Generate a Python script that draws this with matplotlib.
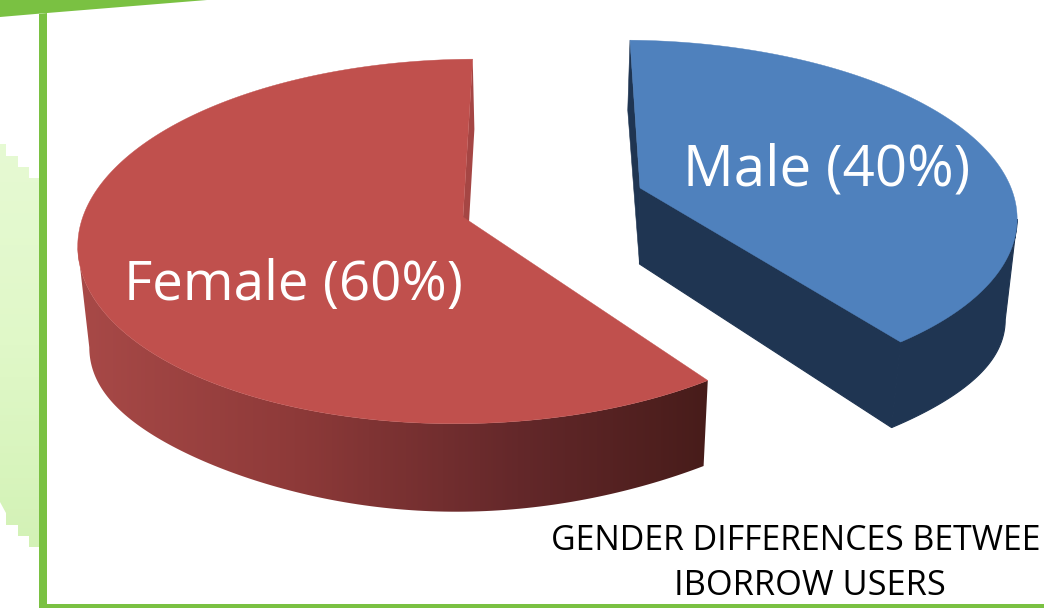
import numpy as np
import matplotlib
matplotlib.use("Agg")
import matplotlib.pyplot as plt
from matplotlib.colors import LinearSegmentedColormap
from matplotlib.patches import Polygon

# valores do grafico
categories = ['Female', 'Male']
shares = [60, 40]
title_lines = ['GENDER DIFFERENCES BETWEE', 'IBORROW USERS']

GREEN = '#7AC142'
plt.rcParams['font.family'] = ['Open Sans', 'DejaVu Sans']

fig = plt.figure(figsize=(10.44, 6.08), dpi=100)
ax = fig.add_axes([0, 0, 1, 1])
ax.set_xlim(0, 1044)
ax.set_ylim(608, 0)
ax.axis('off')


def top_face(theta, apex, a, b, c, e, f):
    # circulo do topo em perspectiva (theta em graus, horario a partir do topo)
    t = np.radians(theta)
    u, v = np.sin(t), np.cos(t)
    w = 1 + e * v + f * u
    return apex[0] + (a * u + b * v) / w, apex[1] - c * v / w, u, v


def bottom_of(x, y, u, v):
    # base da fatia: desce e encolhe um pouco em direcao ao centro
    return 540 + (x - 540) * 0.975, y + 76 - 6 * v + 25 * u ** 4 + 6 * np.maximum(-v, 0) ** 6


# fundo verde claro em degraus, a esquerda
stair_x = [0, 6, 6, 18, 18, 29, 29, 39, 39, 29, 29, 18, 18, 6, 6, 0]
stair_y = [144, 144, 156, 156, 167, 167, 178, 178, 547, 547, 536, 536, 525, 525, 513, 502]
grad = ax.imshow(np.linspace(0, 1, 64).reshape(-1, 1), extent=[0, 39, 547, 144], aspect='auto',
                 cmap=LinearSegmentedColormap.from_list('bg', ['#E6FAD3', '#E0F8C8', '#D3F2B6']), zorder=1)
clip = Polygon(np.column_stack([stair_x, stair_y]), transform=ax.transData, fc='none', ec='none')
ax.add_patch(clip)
grad.set_clip_path(clip)

# moldura verde
ax.add_patch(Polygon([(0, 0), (207, 0), (47, 13), (0, 17)], fc=GREEN, ec='none', zorder=2))
ax.add_patch(Polygon([(39, 14), (47, 13), (47, 604), (1044, 604), (1044, 608), (39, 608)], fc=GREEN, ec='none', zorder=2))

start = 0.0
male_span = shares[1] / sum(shares) * 360
female_span = shares[0] / sum(shares) * 360

# fatia Female
red_apex = (463, 217)
red_par = dict(apex=red_apex, a=384, b=11, c=179, e=0.134, f=-0.01)
th = np.linspace(start + male_span, start + male_span + female_span, 240)
x, y, u, v = top_face(th, **red_par)
xb, yb = bottom_of(x, y, u, v)
wall_cmap = LinearSegmentedColormap.from_list('wall', [(0, '#A94A48'), (0.35, '#8E3A39'), (0.7, '#64282A'), (1, '#471C1A')])
# parede externa com degrade horizontal, so ate o ponto mais a esquerda
wall = ax.imshow(np.linspace(0, 1, 256).reshape(1, -1), extent=[70, 710, 520, 230], aspect='auto', cmap=wall_cmap, zorder=3)
k = np.argmin(x)
wall_clip = Polygon(list(zip(x[:k + 1], y[:k + 1])) + list(zip(xb[k::-1], yb[k::-1])), transform=ax.transData, fc='none', ec='none')
ax.add_patch(wall_clip)
wall.set_clip_path(wall_clip)
# parede interna (fina) da fatia
xeb, yeb = bottom_of(x[-1], y[-1], u[-1], v[-1])
axb, ayb = bottom_of(red_apex[0], red_apex[1], 0, 0)
ax.add_patch(Polygon([(x[-1], y[-1]), (xeb, yeb), (axb, ayb), red_apex], fc='#A54644', ec='none', zorder=3))
ax.add_patch(Polygon([red_apex] + list(zip(x, y)), fc='#C0504D', ec='#C0504D', lw=0.3, zorder=4))

# fatia Male
blue_apex = (640, 188)
blue_par = dict(apex=blue_apex, a=380, b=-11.5, c=170, e=0.15, f=0.024)
th = np.linspace(start, start + male_span, 160)
x, y, u, v = top_face(th, **blue_par)
xb, yb = bottom_of(x, y, u, v)
axb, ayb = bottom_of(blue_apex[0], blue_apex[1], 0, 0)
k = np.argmax(x)
ax.add_patch(Polygon(list(zip(x[k:], y[k:])) + list(zip(xb[:k - 1:-1], yb[:k - 1:-1])), fc='#1F3552', ec='#1F3552', lw=0.8, zorder=3))
ax.add_patch(Polygon([(x[-1], y[-1]), (xb[-1], yb[-1]), (axb + 2, ayb), blue_apex], fc='#1F3552', ec='#1F3552', lw=0.8, zorder=3))
ax.add_patch(Polygon([(x[0], y[0]), (xb[0], yb[0]), (axb + 2, ayb), blue_apex], fc='#1F3552', ec='#1F3552', lw=0.4, zorder=3))
ax.add_patch(Polygon([blue_apex] + list(zip(x, y)), fc='#4F81BD', ec='#4F81BD', lw=0.3, zorder=4))

# rotulos
ax.text(293, 300, f'{categories[0]} ({shares[0]}%)', color='white', fontsize=54.8 * 0.72, ha='center', va='baseline', zorder=5)
ax.text(827, 186, f'{categories[1]} ({shares[1]}%)', color='white', fontsize=56.4 * 0.72, ha='center', va='baseline', zorder=5)

# titulo
ax.text(551, 550, title_lines[0], color='black', fontsize=33.9 * 0.72, ha='left', va='baseline', zorder=5)
ax.text(810, 595, title_lines[1], color='black', fontsize=34.4 * 0.72, ha='center', va='baseline', zorder=5)

ax.set_xlim(0, 1044)
ax.set_ylim(608, 0)
fig.savefig('out.png', dpi=100)
